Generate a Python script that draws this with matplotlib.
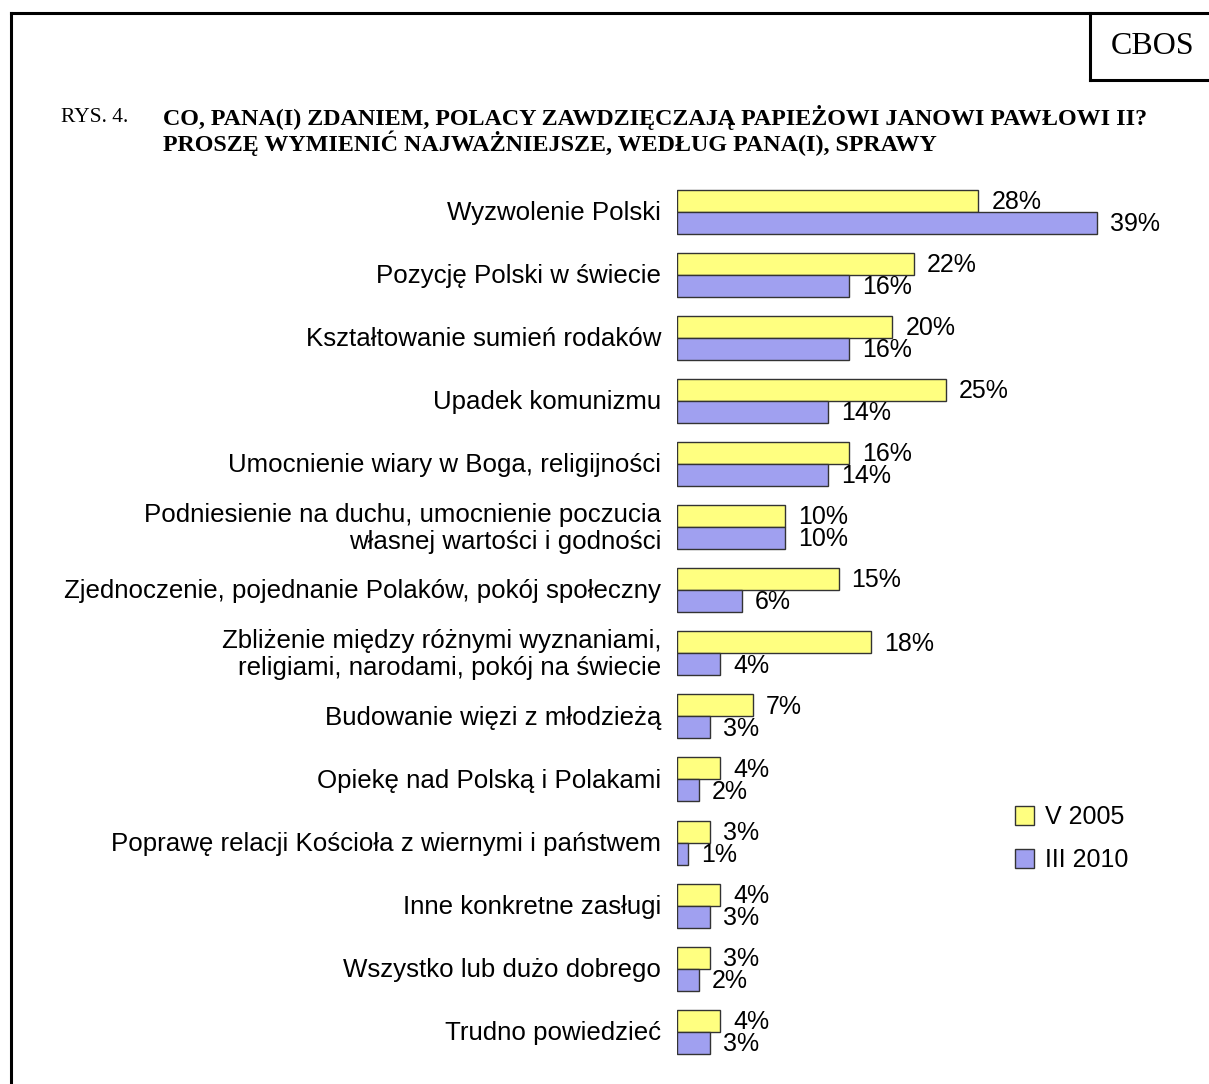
import matplotlib.pyplot as plt
from matplotlib.lines import Line2D
from matplotlib.patches import Patch
import numpy as np

categories = [
    "Wyzwolenie Polski",
    "Pozycję Polski w świecie",
    "Kształtowanie sumień rodaków",
    "Upadek komunizmu",
    "Umocnienie wiary w Boga, religijności",
    "Podniesienie na duchu, umocnienie poczucia\nwłasnej wartości i godności",
    "Zjednoczenie, pojednanie Polaków, pokój społeczny",
    "Zbliżenie między różnymi wyznaniami,\nreligiami, narodami, pokój na świecie",
    "Budowanie więzi z młodzieżą",
    "Opiekę nad Polską i Polakami",
    "Poprawę relacji Kościoła z wiernymi i państwem",
    "Inne konkretne zasługi",
    "Wszystko lub dużo dobrego",
    "Trudno powiedzieć",
]
v2005 = [28, 22, 20, 25, 16, 10, 15, 18, 7, 4, 3, 4, 3, 4]
v2010 = [39, 16, 16, 14, 14, 10, 6, 4, 3, 2, 1, 3, 2, 3]
series_names = ["V 2005", "III 2010"]

yellow = "#FFFF80"
blue = "#A0A0F0"
sans = "Liberation Sans"
serif = "Liberation Serif"

W, H = 1209, 1084
fig = plt.figure(figsize=(W / 100, H / 100), dpi=100)

# pixel geometry
x0 = 677.3      # bar origin
ppu = 10.75     # pixels per percent
y_first = 211.7
step = 63.08
bar_px = 22

ax = fig.add_axes([x0 / W, 0, 1 - x0 / W, 1])
ax.set_xlim(0, (W - x0) / ppu)
ax.set_ylim((H - y_first) / step, -y_first / step)
ax.axis("off")

h = bar_px / step
idx = np.arange(len(categories))
ax.barh(idx - h / 2, v2005, height=h, color=yellow, edgecolor="#333333", linewidth=1)
ax.barh(idx + h / 2, v2010, height=h, color=blue, edgecolor="#333333", linewidth=1)

fs = 18.6
for i, cat in enumerate(categories):
    ax.text(-16 / ppu, i + 0.02, cat, ha="right", va="center", fontsize=fs,
            family=sans, linespacing=1.12, multialignment="right")
    ax.text(v2005[i] + 13 / ppu, i - h / 2 + 0.02, f"{v2005[i]}%", ha="left",
            va="center", fontsize=18, family=sans)
    ax.text(v2010[i] + 13 / ppu, i + h / 2 + 0.02, f"{v2010[i]}%", ha="left",
            va="center", fontsize=18, family=sans)

# legend
handles = [Patch(facecolor=yellow, edgecolor="#333333"),
           Patch(facecolor=blue, edgecolor="#333333")]
fig.legend(handles, series_names, loc="upper left",
           bbox_to_anchor=(992 / W, 1 - 783 / H), frameon=False,
           prop={"family": sans, "size": 18}, handlelength=0.78,
           handleheight=0.78, handletextpad=0.45, labelspacing=0.75)

# frame lines
lw = 2.2
fig.add_artist(Line2D([11 / W, 11 / W], [0, 1 - 13 / H], transform=fig.transFigure,
                      color="black", lw=lw))
fig.add_artist(Line2D([11 / W, 1], [1 - 13 / H, 1 - 13 / H], transform=fig.transFigure,
                      color="black", lw=lw))
fig.add_artist(Line2D([1090 / W, 1090 / W], [1 - 13 / H, 1 - 80 / H],
                      transform=fig.transFigure, color="black", lw=lw))
fig.add_artist(Line2D([1090 / W, 1], [1 - 80 / H, 1 - 80 / H],
                      transform=fig.transFigure, color="black", lw=lw))
fig.text(1153 / W, 1 - 47 / H, "CBOS", ha="center", va="center",
         fontsize=23, family=serif)

# title
fig.text(61 / W, 1 - 117 / H, "RYS. 4.", ha="left", va="center",
         fontsize=15.5, family=serif)
fig.text(163 / W, 1 - 117 / H,
         "CO, PANA(I) ZDANIEM, POLACY ZAWDZIĘCZAJĄ PAPIEŻOWI JANOWI PAWŁOWI II?",
         ha="left", va="center", fontsize=17.3, family=serif, weight="bold")
fig.text(163 / W, 1 - 143 / H,
         "PROSZĘ WYMIENIĆ NAJWAŻNIEJSZE, WEDŁUG PANA(I), SPRAWY",
         ha="left", va="center", fontsize=17.3, family=serif, weight="bold")

fig.savefig("out.png", dpi=100)
